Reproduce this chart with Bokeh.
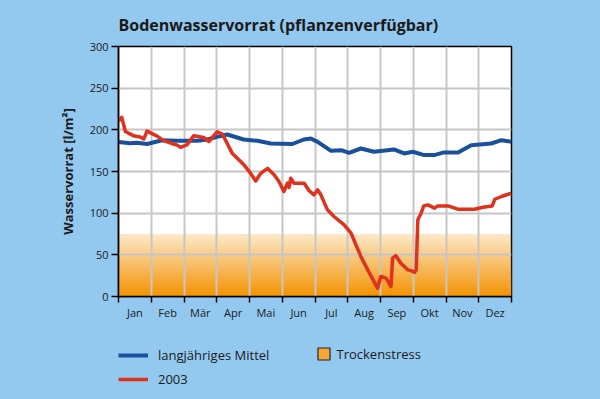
import numpy as np
from bokeh.plotting import figure
from bokeh.layouts import column
from bokeh.models import FixedTicker, Legend, LegendItem, Range1d
from bokeh.embed import file_html
from bokeh.resources import INLINE

# ---------------- data ----------------
months = ["Jan", "Feb", "Mär", "Apr", "Mai", "Jun", "Jul", "Aug", "Sep", "Okt", "Nov", "Dez"]

# x in months since 1 January (0 = Jan 1, 12 = Dec 31)
mittel_x = [0.0, 0.36, 0.57, 0.87, 1.33, 1.77, 2.41, 2.71, 3.01, 3.32, 3.82, 4.24, 4.65,
            5.31, 5.66, 5.87, 6.08, 6.49, 6.80, 7.04, 7.40, 7.80, 8.41, 8.72, 8.99, 9.33,
            9.64, 9.94, 10.37, 10.77, 11.38, 11.69, 12.0]
mittel_y = [185.5, 184, 184.5, 183, 187.5, 186.8, 186.8, 188.4, 191.6, 194.4, 188.4, 186.8, 183.6,
            183, 188.4, 189.6, 185.6, 174.8, 175.6, 172.4, 177.6, 173.7, 176.5, 171.7, 173.7, 169.7,
            169.7, 172.9, 172.9, 181.6, 183.6, 187.6, 185.6]

y2003_x = [0.0, 0.10, 0.21, 0.45, 0.66, 0.77, 0.87, 1.18, 1.38, 1.68, 1.79, 1.89, 2.09, 2.30,
           2.60, 2.76, 3.01, 3.17, 3.47, 3.83, 4.03, 4.19, 4.34, 4.55, 4.75, 4.90, 5.05, 5.16,
           5.21, 5.26, 5.36, 5.67, 5.82, 5.97, 6.08, 6.18, 6.38, 6.58, 6.89, 7.10, 7.40, 7.61,
           7.91, 8.01, 8.17, 8.32, 8.37, 8.47, 8.62, 8.83, 8.93, 9.04, 9.09, 9.14, 9.24, 9.32,
           9.45, 9.65, 9.75, 10.06, 10.36, 10.87, 11.13, 11.41, 11.49, 11.69, 12.0]
y2003_y = [211, 215, 198, 193, 191.5, 189, 198.4, 192.4, 187, 183, 181.6, 178.9, 182, 193,
           190.8, 186, 197.6, 195, 172, 158, 148, 138.6, 147.8, 153.8, 146, 138, 126, 136,
           131, 142, 136, 136, 127, 122, 128, 122, 104, 96, 86, 76, 48, 32,
           10, 24, 22, 12, 46, 49, 40, 32, 31, 29, 32, 92, 100, 108.7,
           110, 106, 108.7, 108.7, 104.8, 104.8, 107, 108.7, 116.7, 120, 124]

trockenstress_grenze = 75
y_ticks = [0, 50, 100, 150, 200, 250, 300]

# ---------------- styling ----------------
BG = "#94c9ef"
BLUE = "#1a4f9b"
RED = "#e0311c"
ORANGE_RGB = (243, 146, 0)
FONT = "Open Sans"
TXT = "#1a1a1a"

p = figure(width=600, height=322, output_backend="svg", toolbar_location=None,
           x_range=Range1d(0, 12), y_range=Range1d(0, 300),
           min_border_left=118, min_border_right=89, min_border_top=46, min_border_bottom=25)
p.border_fill_color = BG
p.background_fill_color = "white"
p.outline_line_color = "black"
p.outline_line_width = 1.5

# title
p.title.text = "Bodenwasservorrat (pflanzenverfügbar)"
p.title.text_font = FONT
p.title.text_font_size = "16px"
p.title.text_font_style = "bold"
p.title.text_color = TXT
p.title.align = "left"
p.title.vertical_align = "bottom"
p.title.standoff = 22

# drought stress gradient band (one image, opaque at 0, fading towards the threshold)
n = 150
img = np.zeros((n, 1), dtype=np.uint32)
view = img.view(dtype=np.uint8).reshape((n, 1, 4))
frac = (np.arange(n) + 0.5) / n
view[:, 0, 0] = ORANGE_RGB[0]
view[:, 0, 1] = ORANGE_RGB[1]
view[:, 0, 2] = ORANGE_RGB[2]
view[:, 0, 3] = np.round(255 * (1.0 - 0.8 * frac)).astype(np.uint8)
p.image_rgba(image=[img], x=p.x_range.start, y=0,
             dw=p.x_range.end - p.x_range.start, dh=trockenstress_grenze, level="image")

# lines
p.line(mittel_x, mittel_y, line_color=BLUE, line_width=4, line_join="round")
p.line(y2003_x, y2003_y, line_color=RED, line_width=3.5, line_join="round")

# grids
p.xgrid.ticker = FixedTicker(ticks=list(range(1, 12)))
p.ygrid.ticker = FixedTicker(ticks=y_ticks[1:-1])
for g in (p.xgrid, p.ygrid):
    g.grid_line_color = "#c6c6c6"
    g.grid_line_width = 2

# x axis
xa = p.xaxis[0]
xa.ticker = FixedTicker(ticks=[i + 0.5 for i in range(12)], minor_ticks=list(range(13)))
xa.major_label_overrides = {i + 0.5: m for i, m in enumerate(months)}
xa.major_tick_line_color = None
xa.major_tick_out = 0
xa.major_tick_in = 0
xa.minor_tick_line_color = "black"
xa.minor_tick_line_width = 1.5
xa.minor_tick_out = 6
xa.minor_tick_in = 0
xa.axis_line_width = 1.5
xa.major_label_text_font = FONT
xa.major_label_text_font_size = "11px"
xa.major_label_text_color = TXT
xa.major_label_standoff = 2

# y axis
ya = p.yaxis[0]
ya.ticker = FixedTicker(ticks=y_ticks)
ya.minor_tick_line_color = None
ya.major_tick_line_width = 1.5
ya.major_tick_out = 7
ya.major_tick_in = 0
ya.axis_line_width = 1.5
ya.major_label_text_font = FONT
ya.major_label_text_font_size = "11px"
ya.major_label_text_color = TXT
ya.major_label_standoff = 3
ya.axis_label = "Wasservorrat [l/m²]"
ya.axis_label_text_font = FONT
ya.axis_label_text_font_size = "13px"
ya.axis_label_text_font_style = "bold"
ya.axis_label_text_color = TXT
ya.axis_label_standoff = 10

# ---------------- legend panel below ----------------
# ranges chosen so that the key renderers themselves stay out of view
lf = figure(width=600, height=77, output_backend="svg", toolbar_location=None,
            x_range=Range1d(-2, -1), y_range=Range1d(-2, -1),
            min_border=0, x_axis_type=None, y_axis_type=None)
lf.border_fill_color = BG
lf.background_fill_color = BG
lf.outline_line_color = None
lf.grid.visible = False
k_mittel = lf.line(mittel_x, mittel_y, line_color=BLUE, line_width=4)
k_2003 = lf.line(y2003_x, y2003_y, line_color=RED, line_width=3.5)
k_stress = lf.quad(left=[0], right=[12], bottom=[0], top=[trockenstress_grenze],
                   fill_color="#f7a63a", line_color="#222222", line_width=1.2)

leg1 = Legend(items=[LegendItem(label="langjähriges Mittel", renderers=[k_mittel]),
                     LegendItem(label="2003", renderers=[k_2003])],
              location=(0, 10), padding=0, margin=0, spacing=4,
              glyph_width=30, glyph_height=20, label_height=20, label_standoff=10,
              background_fill_alpha=0, border_line_alpha=0,
              label_text_font=FONT, label_text_font_size="13px", label_text_color=TXT)
leg2 = Legend(items=[LegendItem(label="Trockenstress", renderers=[k_stress])],
              location=(197.5, 36.5), padding=0, margin=0, spacing=0,
              glyph_width=15, glyph_height=15, label_height=15, label_standoff=6,
              background_fill_alpha=0, border_line_alpha=0,
              label_text_font=FONT, label_text_font_size="13px", label_text_color=TXT)
lf.add_layout(leg1, "center")
lf.add_layout(leg2, "center")

layout = column(p, lf, spacing=0)
html = file_html(layout, INLINE)
html = html.replace("<head>", "<head><style>html,body{background:%s;}</style>" % BG, 1)
open("out.html", "w").write(html)
